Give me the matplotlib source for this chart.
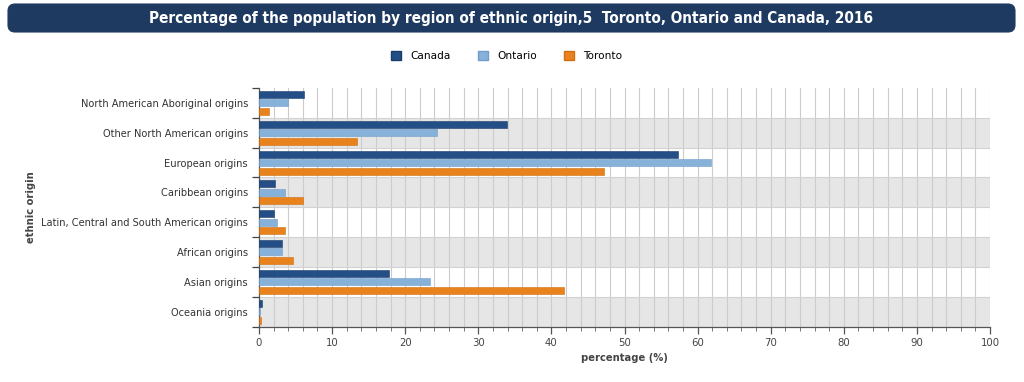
import matplotlib.pyplot as plt
from matplotlib.patches import FancyBboxPatch, Patch
import numpy as np

categories = [
    "North American Aboriginal origins",
    "Other North American origins",
    "European origins",
    "Caribbean origins",
    "Latin, Central and South American origins",
    "African origins",
    "Asian origins",
    "Oceania origins",
]
series_names = ["Canada", "Ontario", "Toronto"]
canada = [6.2, 33.9, 57.3, 2.2, 2.1, 3.1, 17.8, 0.35]
ontario = [3.9, 24.4, 61.8, 3.6, 2.5, 3.1, 23.4, 0.2]
toronto = [1.3, 13.4, 47.2, 6.0, 3.6, 4.6, 41.7, 0.3]
x_ticks = list(range(0, 101, 10))

colors = ["#234e86", "#86b1d9", "#e8821c"]
edge_colors = ["#1a3d6c", "#6f9ccb", "#d07010"]

W, H = 1024, 382
fig = plt.figure(figsize=(W / 100, H / 100), dpi=100)
fig.patch.set_facecolor("white")

# Title box
box = FancyBboxPatch((8 / 100, (H - 32) / 100), 1007 / 100, 28 / 100,
                     boxstyle="round,pad=0,rounding_size=0.07",
                     transform=fig.dpi_scale_trans, facecolor="#1f3a60",
                     edgecolor="#1f3a60", linewidth=0.8)
fig.patches.append(box)
fig.text(511 / W, 1 - 18 / H,
         "Percentage of the population by region of ethnic origin,5  Toronto, Ontario and Canada, 2016",
         ha="center", va="center", color="white", fontsize=11, fontweight="bold",
         family="DejaVu Sans", fontstretch="condensed")

ax = fig.add_axes([259 / W, 1 - 326.5 / H, (990 - 259) / W, (326.5 - 88) / H])
n = len(categories)
y = np.arange(n)
for i in range(n):
    if i % 2 == 1:
        ax.axhspan(i - 0.5, i + 0.5, color="#e6e6e6", zorder=0, lw=0)
for b in np.arange(0.5, n - 0.5):
    ax.axhline(b, color="#d2d2d2", lw=0.8, zorder=1)

h = 0.235
offsets = [-0.285, 0.0, 0.285]
for vals, off, c, ec in zip([canada, ontario, toronto], offsets, colors, edge_colors):
    ax.barh(y + off, vals, height=h, color=c, edgecolor=ec, linewidth=0.4, zorder=3)

ax.set_xlim(0, 100)
ax.set_ylim(n - 0.5, -0.5)
ax.set_xticks(x_ticks)
ax.set_xticks(range(0, 101, 2), minor=True)
ax.grid(which="both", axis="x", color="#cccccc", lw=0.8, zorder=1)
ax.set_axisbelow(True)

ax.set_yticks(np.arange(-0.5, n, 1.0))
ax.set_yticklabels([])
ax.set_yticks(y, minor=True)
ax.set_yticklabels(categories, minor=True, fontsize=7.1, color="#333333")
ax.tick_params(axis="y", which="major", length=5, width=0.9, color="#444444")
ax.tick_params(axis="y", which="minor", length=0, pad=8)
ax.tick_params(axis="x", which="major", length=5, width=0.9, color="#555555",
               labelsize=7.3, labelcolor="#444444", pad=3)
ax.tick_params(axis="x", which="minor", length=3, width=0.7, color="#777777")

for s in ["top", "right"]:
    ax.spines[s].set_visible(False)
ax.spines["left"].set_color("#555555")
ax.spines["bottom"].set_color("#555555")
ax.spines["left"].set_linewidth(0.9)
ax.spines["bottom"].set_linewidth(0.9)

fig.text(624 / W, 1 - 358 / H, "percentage (%)", ha="center", va="center",
         fontsize=7.2, fontweight="bold", color="#444444")
fig.text(31 / W, 1 - 207 / H, "ethnic origin", ha="center", va="center",
         rotation=90, fontsize=7.2, fontweight="bold", color="#444444")

handles = [Patch(facecolor=c, edgecolor=ec, label=nm)
           for c, ec, nm in zip(colors, edge_colors, series_names)]
fig.legend(handles=handles, loc="center", bbox_to_anchor=(507 / W, 1 - 56 / H),
           ncol=3, frameon=False, fontsize=7.6, handlelength=0.9, handleheight=0.9,
           columnspacing=2.6, handletextpad=0.9)

fig.savefig("out.png", dpi=100)
